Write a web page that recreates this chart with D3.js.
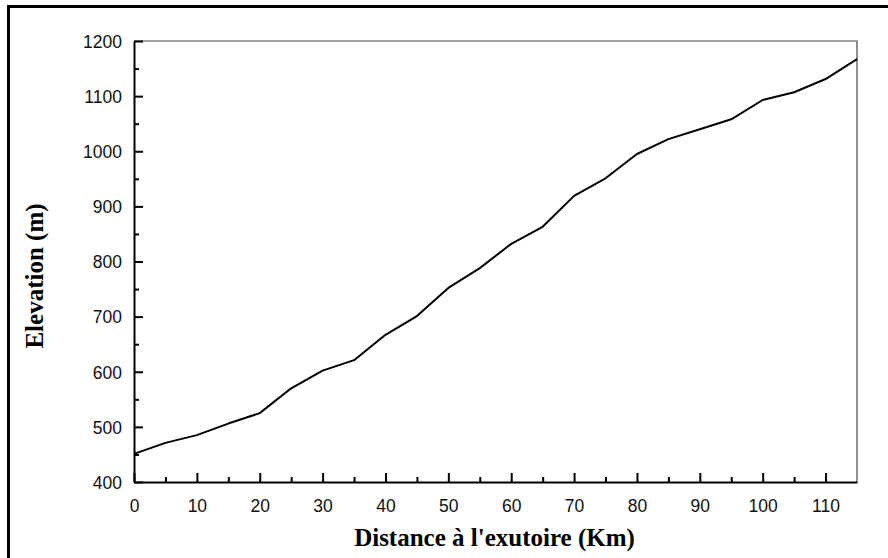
<!DOCTYPE html>
<html><head><meta charset="utf-8">
<script src="https://cdn.jsdelivr.net/npm/d3@7"></script>
<style>body{margin:0;background:#fff}svg{display:block}</style>
</head><body>
<svg id="c" width="888" height="558"></svg>
<script>
const distance = [0,5,10,15,20,25,30,35,40,45,50,55,60,65,70,75,80,85,90,95,100,105,110,115];
const elevation = [451,471,485,506,525,570,602,621,667,701,752,788,832,863,919,951,995,1022,1040,1058,1093,1107,1131,1167];
const xTicks = [0,10,20,30,40,50,60,70,80,90,100,110];
const yTicks = [400,500,600,700,800,900,1000,1100,1200];
const xLabel = "Distance à l'exutoire (Km)";
const yLabel = "Elevation (m)";

const svg = d3.select("#c");
const L = 134, R = 857, T = 41, B = 482;
const x = d3.scaleLinear().domain([0,115]).range([L,R]);
const y = d3.scaleLinear().domain([400,1200]).range([B,T]);

// outer frame
svg.append("rect").attr("x",8.5).attr("y",6.5).attr("width",900).attr("height",600)
  .attr("fill","none").attr("stroke","#000").attr("stroke-width",3);

// top/right thin border
svg.append("path").attr("d",`M${L},${T}H${R}V${B}`).attr("fill","none")
  .attr("stroke","#444").attr("stroke-width",1.2);

// minor ticks
const xMinor = d3.range(5,115,10);
const yMinor = d3.range(450,1200,100);

const xAxis = svg.append("g").attr("transform",`translate(0,${B})`)
  .call(d3.axisBottom(x).tickValues(xTicks).tickSizeInner(-9).tickSizeOuter(0).tickPadding(18).tickFormat(d3.format("d")));
const xMin = svg.append("g").attr("transform",`translate(0,${B})`)
  .call(d3.axisBottom(x).tickValues(xMinor).tickSize(-5).tickFormat(""));
xMin.select(".domain").remove();

const yAxis = svg.append("g").attr("transform",`translate(${L},0)`)
  .call(d3.axisLeft(y).tickValues(yTicks).tickSizeInner(-9).tickSizeOuter(0).tickPadding(12).tickFormat(d3.format("d")));
const yMin = svg.append("g").attr("transform",`translate(${L},0)`)
  .call(d3.axisLeft(y).tickValues(yMinor).tickSize(-5).tickFormat(""));
yMin.select(".domain").remove();

svg.selectAll(".domain").attr("stroke","#000").attr("stroke-width",2);
svg.selectAll(".tick line").attr("stroke","#000").attr("stroke-width",2);
svg.selectAll(".tick text").attr("font-family","'Liberation Sans', Arial, sans-serif")
  .attr("font-size",17.5).attr("fill","#111");
yAxis.selectAll(".tick text").attr("dy","0.36em");

// line
const line = d3.line().x((d,i)=>x(distance[i])).y(d=>y(d));
svg.append("path").datum(elevation).attr("d",line).attr("fill","none")
  .attr("stroke","#000").attr("stroke-width",2).attr("stroke-linejoin","round");

// titles
svg.append("text").attr("x",(L+R)/2 - 1).attr("y",546).attr("text-anchor","middle")
  .attr("font-family","'Liberation Serif', 'Times New Roman', serif").attr("font-weight","bold")
  .attr("font-size",25).attr("fill","#000").text(xLabel);
svg.append("text").attr("transform","translate(43,276) rotate(-90)").attr("text-anchor","middle")
  .attr("font-family","'Liberation Serif', 'Times New Roman', serif").attr("font-weight","bold")
  .attr("font-size",25).attr("fill","#000").text(yLabel);
</script>
</body></html>
